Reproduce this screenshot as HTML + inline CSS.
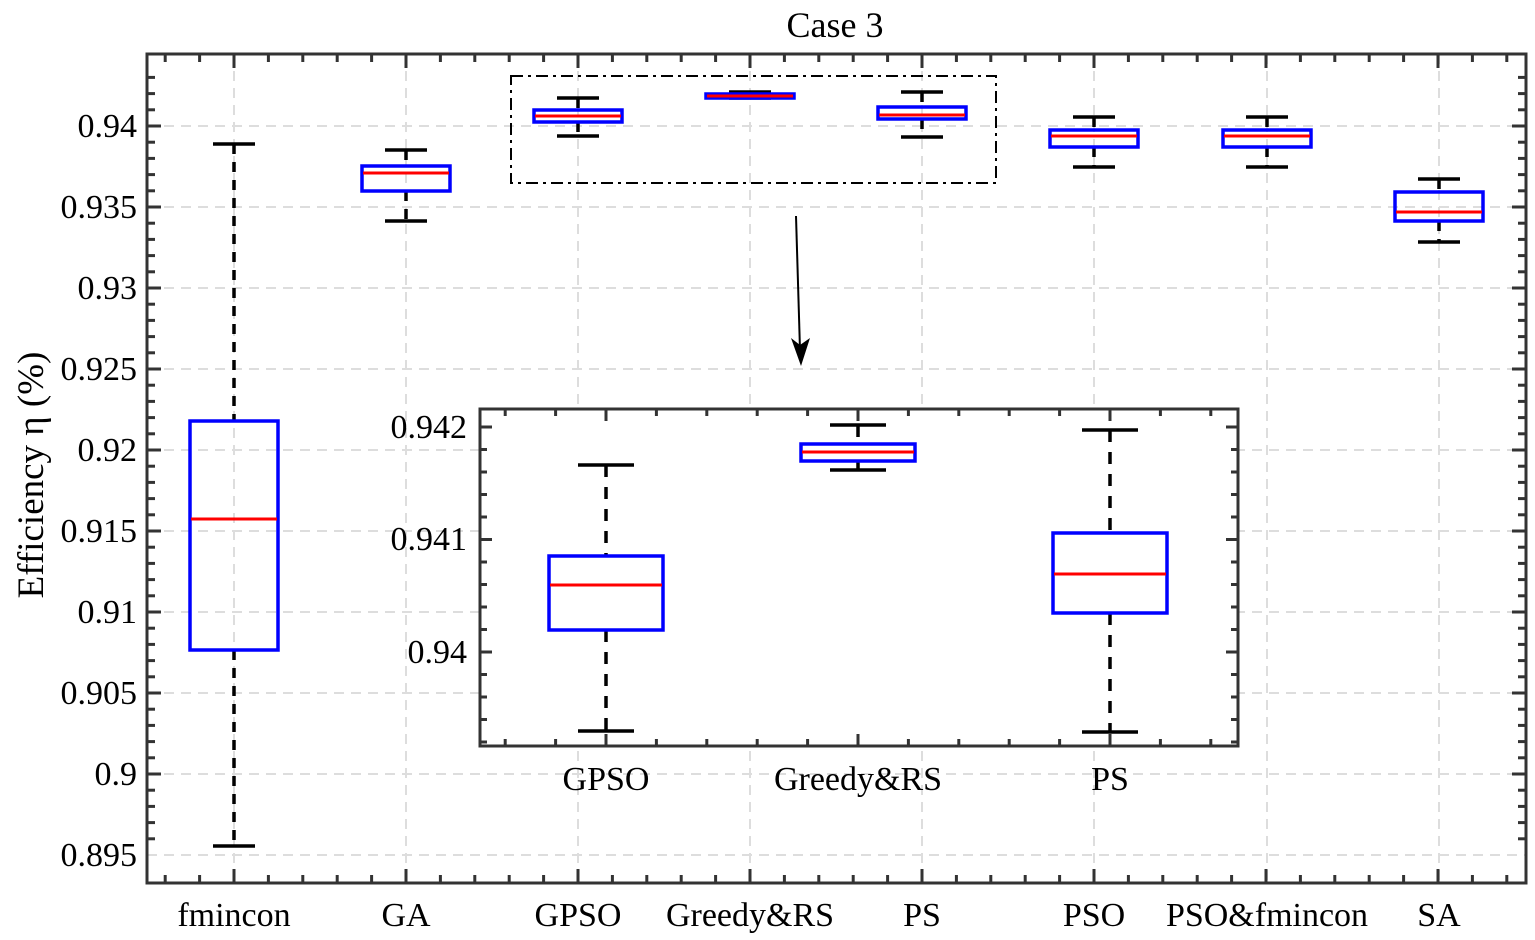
<!DOCTYPE html><html><head><meta charset="utf-8"><style>body{margin:0;background:#fff}svg{display:block}text{font-family:"Liberation Serif",serif;fill:#000}</style></head><body>
<svg id="s" width="1535" height="940" xmlns="http://www.w3.org/2000/svg"></svg>
<script>
const s=document.getElementById('s');let h='';
const L=147,R=1526,T=54,B=883;
h+=`<rect width="1535" height="940" fill="#fff"/>`;
const cx=[234,406,578,750,922,1094,1267,1439];
for(const x of cx)h+=`<line x1="${x}" y1="${T}" x2="${x}" y2="${B}" stroke="#ddd" stroke-width="2" stroke-dasharray="10,7"/>`;
for(let i=0;i<10;i++){const yy=126+i*81;h+=`<line x1="${L}" y1="${yy}" x2="${R}" y2="${yy}" stroke="#ddd" stroke-width="2" stroke-dasharray="10,7"/>`;}
for(let k=-3;k<45;k++){const yy=126+k*16.2;if(yy<T||yy>B)continue;const m=k%5==0?14:8;h+=`<line x1="${L}" y1="${yy}" x2="${L+m}" y2="${yy}" stroke="#333" stroke-width="3"/><line x1="${R}" y1="${yy}" x2="${R-m}" y2="${yy}" stroke="#333" stroke-width="3"/>`;}
for(let k=-3;k<45;k++){const xx=234+k*34.4;if(xx<L+3||xx>R-3)continue;const m=k%5==0?14:8;h+=`<line x1="${xx}" y1="${T}" x2="${xx}" y2="${T+m}" stroke="#333" stroke-width="3"/><line x1="${xx}" y1="${B}" x2="${xx}" y2="${B-m}" stroke="#333" stroke-width="3"/>`;}
h+=`<rect x="${L}" y="${T}" width="${R-L}" height="${B-T}" fill="none" stroke="#333" stroke-width="3"/>`;
function box(x,w1,w2,b1,b2,md,bw,cw,dash){
 h+=`<line x1="${x}" y1="${w1}" x2="${x}" y2="${b1}" stroke="#000" stroke-width="3.5" stroke-dasharray="${dash}"/>`;
 h+=`<line x1="${x}" y1="${b2}" x2="${x}" y2="${w2}" stroke="#000" stroke-width="3.5" stroke-dasharray="${dash}"/>`;
 h+=`<line x1="${x-cw}" y1="${w1}" x2="${x+cw}" y2="${w1}" stroke="#000" stroke-width="3.5"/><line x1="${x-cw}" y1="${w2}" x2="${x+cw}" y2="${w2}" stroke="#000" stroke-width="3.5"/>`;
 h+=`<rect x="${x-bw}" y="${b1}" width="${2*bw}" height="${b2-b1}" fill="none" stroke="#00f" stroke-width="3.5"/>`;
 h+=`<line x1="${x-bw+1}" y1="${md}" x2="${x+bw-1}" y2="${md}" stroke="#f00" stroke-width="3"/>`;
}
const D=[[144,846,421,650,519],[150,221,166,191,173],[98,136,110,122,116],[92,98,94,98,96],[92,137,107,119,115],[117,167,130,147,136],[117,167,130,147,136],[179,242,192,221,212]];
D.forEach((d,i)=>box(cx[i],d[0],d[1],d[2],d[3],d[4],44,21,"10,8"));
const lab=["fmincon","GA","GPSO","Greedy&amp;RS","PS","PSO","PSO&amp;fmincon","SA"];
lab.forEach((l,i)=>h+=`<text x="${cx[i]}" y="926" font-size="34" text-anchor="middle">${l}</text>`);
["0.94","0.935","0.93","0.925","0.92","0.915","0.91","0.905","0.9","0.895"].forEach((t,i)=>h+=`<text x="137" y="${126+i*81+11}" font-size="34" text-anchor="end">${t}</text>`);
h+=`<text x="835" y="37" font-size="36" text-anchor="middle">Case 3</text>`;
h+=`<text transform="translate(43,475) rotate(-90)" font-size="37" text-anchor="middle">Efficiency η (%)</text>`;
h+=`<rect x="511" y="76" width="485" height="107" fill="none" stroke="#000" stroke-width="2" stroke-dasharray="12,5,3,5"/>`;
h+=`<line x1="796" y1="216" x2="800" y2="350" stroke="#000" stroke-width="2"/><polygon points="801,366 791,338 800,345 810,338" fill="#000"/>`;
const iL=480,iR=1238,iT=409,iB=746;
h+=`<rect x="${iL}" y="${iT}" width="${iR-iL}" height="${iB-iT}" fill="#fff"/>`;
for(let k=-2;k<20;k++){const yy=427+k*22.5;if(yy<iT+3||yy>iB-3)continue;const m=k%5==0?12:7;h+=`<line x1="${iL}" y1="${yy}" x2="${iL+m}" y2="${yy}" stroke="#333" stroke-width="3"/><line x1="${iR}" y1="${yy}" x2="${iR-m}" y2="${yy}" stroke="#333" stroke-width="3"/>`;}
for(let k=-3;k<20;k++){const xx=606+k*50.4;if(xx<iL+3||xx>iR-3)continue;const m=k%5==0?12:7;h+=`<line x1="${xx}" y1="${iT}" x2="${xx}" y2="${iT+m}" stroke="#333" stroke-width="3"/><line x1="${xx}" y1="${iB}" x2="${xx}" y2="${iB-m}" stroke="#333" stroke-width="3"/>`;}
h+=`<rect x="${iL}" y="${iT}" width="${iR-iL}" height="${iB-iT}" fill="none" stroke="#333" stroke-width="3"/>`;
box(606,465,731,556,630,585,57,28,"12,10");
box(858,425,470,444,461,452,57,28,"12,10");
box(1110,430,732,533,613,574,57,28,"12,10");
[["0.942",438],["0.941",550],["0.94",663]].forEach(t=>h+=`<text x="467" y="${t[1]}" font-size="34" text-anchor="end">${t[0]}</text>`);
[["GPSO",606],["Greedy&amp;RS",858],["PS",1110]].forEach(t=>h+=`<text x="${t[1]}" y="790" font-size="34" text-anchor="middle">${t[0]}</text>`);
s.innerHTML=h;
</script></body></html>
